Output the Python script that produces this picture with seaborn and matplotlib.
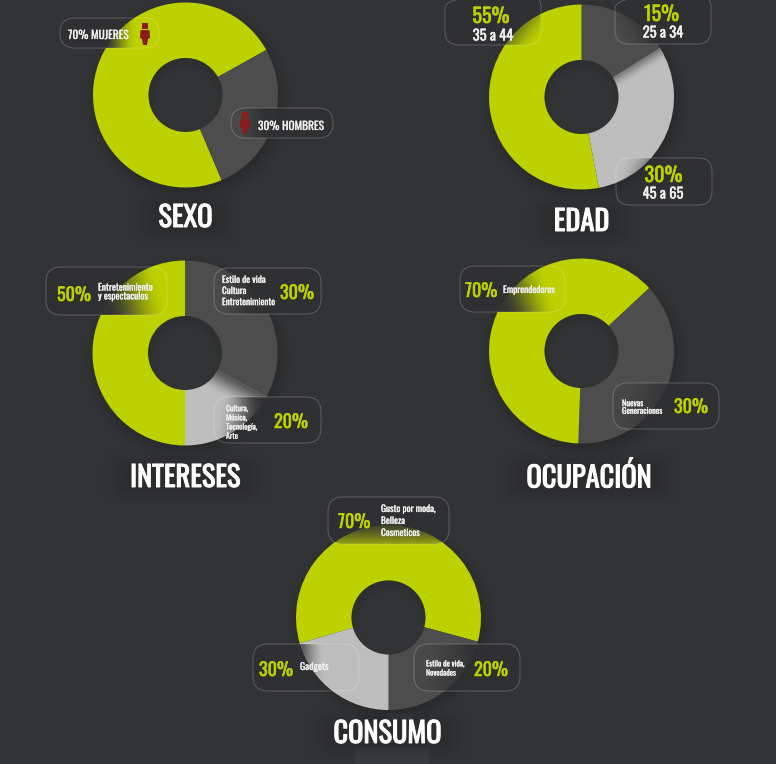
import numpy as np
import matplotlib
matplotlib.use("Agg")
import matplotlib.pyplot as plt
import matplotlib.patheffects as pe
from matplotlib.patches import FancyBboxPatch, Circle
import seaborn as sns

# arc shares as they are drawn in the picture (the printed % differ a bit)
sexo_shares = [73.3, 26.7]
edad_shares = [16.1, 30.9, 53.0]
intereses_shares = [32.8, 17.2, 50.0]
ocupacion_shares = [37.5, 62.5]
consumo_shares = [58.7, 20.8, 20.5]

titles = ["SEXO", "EDAD", "INTERESES", "OCUPACIÓN", "CONSUMO"]

W, H = 776, 764
BG = "#323335"
LIME = "#BDD000"
GRAY = "#4D4D4D"
LIGHT = "#BDBDBD"
FONT = ["Oswald", "Roboto", "DejaVu Sans"]

sns.set_theme(style="white", rc={"figure.facecolor": BG, "axes.facecolor": BG})
plt.rcParams["font.family"] = FONT
palette = sns.color_palette([LIME, GRAY, LIGHT])

fig = plt.figure(figsize=(W / 100, H / 100), dpi=100, facecolor=BG)
ax = fig.add_axes([0, 0, 1, 1])


def grid(x0, x1, y0, y1):
    xs = np.arange(x0, x1 + 1)
    ys = np.arange(y0, y1 + 1)
    return np.meshgrid(xs, ys)


def smooth(t):
    t = np.clip(t, 0, 1)
    return t * t * (3 - 2 * t)


def rgba_image(alpha, color, x0, x1, y0, y1, z):
    rgb = matplotlib.colors.to_rgb(color)
    img = np.zeros(alpha.shape + (4,))
    img[..., :3] = rgb
    img[..., 3] = alpha
    return ax.imshow(img, extent=(x0, x1, H - y1, H - y0), origin="upper",
                     interpolation="bilinear", aspect="auto", zorder=z)


def donut(cx, cy, shares, colors, start):
    # soft drop shadow under the ring, nothing in the hole
    X, Y = grid(cx - 115, cx + 115, cy - 115, cy + 125)
    d = np.hypot(X - cx - 3, Y - cy - 6)
    shade = 0.45 * (1 - smooth((d - 84) / 22)) * (d > 70)
    rgba_image(shade, "#1e1f20", cx - 115, cx + 115, cy - 115, cy + 125, 1)
    wedges, _ = ax.pie(shares, colors=colors, startangle=start, counterclock=False,
                       radius=92.5, center=(cx, H - cy),
                       wedgeprops={"width": 55.5, "linewidth": 0, "zorder": 2})
    # inner shadow along the top of the hole
    X, Y = grid(cx - 38, cx + 38, cy - 38, cy + 38)
    d = np.hypot(X - cx, Y - cy - 6)
    im = rgba_image(0.3 * smooth((d - 30) / 12), "#232425", cx - 38, cx + 38, cy - 38, cy + 38, 3)
    hole = Circle((cx, H - cy), 37, transform=ax.transData)
    im.set_clip_path(hole)
    return wedges


def edge_fade(wedge, p0, p1):
    # gray bleeding over the light slice next to its boundary
    x0, x1 = min(p0[0], p1[0]) - 70, max(p0[0], p1[0]) + 70
    y0, y1 = min(p0[1], p1[1]) - 70, max(p0[1], p1[1]) + 70
    X, Y = grid(x0, x1, y0, y1)
    vx, vy = p1[0] - p0[0], p1[1] - p0[1]
    t = ((X - p0[0]) * vx + (Y - p0[1]) * vy) / (vx * vx + vy * vy)
    im = rgba_image(1 - smooth(t), GRAY, x0, x1, y0, y1, 3)
    im.set_clip_path(wedge)


def card(x0, y0, x1, y1, r, opaque, clear, floor=0.0):
    # frosted pill: dark veil that fades out from `opaque` towards `clear`
    X, Y = grid(x0, x1, y0, y1)
    vx, vy = clear[0] - opaque[0], clear[1] - opaque[1]
    t = ((X - opaque[0]) * vx + (Y - opaque[1]) * vy) / (vx * vx + vy * vy)
    alpha = floor + (0.97 - floor) * (1 - smooth(t))
    im = rgba_image(alpha, "#2F3032", x0, x1, y0, y1, 4)
    clip = FancyBboxPatch((x0, H - y1), x1 - x0, y1 - y0, boxstyle=f"round,pad=0,rounding_size={r}",
                          transform=ax.transData, facecolor="none", edgecolor="none")
    ax.add_patch(clip)
    im.set_clip_path(clip)
    ax.add_patch(FancyBboxPatch((x0, H - y1), x1 - x0, y1 - y0, boxstyle=f"round,pad=0,rounding_size={r}",
                                facecolor="none", edgecolor=(1, 1, 1, 0.22), linewidth=0.7, zorder=5))


def label(x, y, s, size, color="#F0F0F0", ha="left", linespacing=1.0, bold=0.15):
    # the installed Oswald only has its light cut, so thicken it with a stroke
    ax.text(x, H - y, s, fontsize=size, color=color, ha=ha, va="center", linespacing=linespacing, zorder=7,
            path_effects=[pe.withStroke(linewidth=bold, foreground=color)])


def title(x, y, s, halfw):
    X, Y = grid(x - halfw - 30, x + halfw + 30, y - 28, y + 28)
    a = smooth((halfw + 30 - np.abs(X - x)) / 30) * smooth((28 - np.abs(Y - y)) / 18)
    rgba_image(0.42 * a, "#232425", x - halfw - 30, x + halfw + 30, y - 28, y + 28, 1.5)
    ax.text(x, H - y, s, fontsize=20.5, color="white", ha="center", va="center", zorder=7,
            path_effects=[pe.withStroke(linewidth=0.7, foreground="white")])


def ghost(x0, y0, x1, y1):
    # faint dotted remains around the last title
    X, Y = grid(x0, x1, y0, y1)
    rgba_image(0.22 * ((X + Y) % 2), "#6A6B6D", x0, x1, y0, y1, 1.6)


def person(cx, cy):
    red = "#8A1C1C"
    ax.fill([cx - 3, cx + 3, cx + 3, cx - 3], H - np.array([cy - 11, cy - 11, cy - 5, cy - 5]),
            color=red, lw=0, zorder=6)
    ax.fill([cx - 4.5, cx + 4.5, cx + 5, cx + 3, cx + 2, cx - 2, cx - 3, cx - 5],
            H - np.array([cy - 4, cy - 4, cy + 4, cy + 5, cy + 11, cy + 11, cy + 5, cy + 4]),
            color=red, lw=0, zorder=6)


lime, gray, light = palette
PCT = 0.35

# SEXO
donut(185.5, 95, sexo_shares, [lime, gray], 90 - 157)
card(60, 18, 159, 48, 15, (103, 33), (137, 33))
card(231, 108, 333, 138, 15, (268, 123), (236, 123), 0.15)
label(68, 35, "70% MUJERES", 8.2)
label(258, 126, "30% HOMBRES", 8.2)
person(145, 34)
person(245, 123)
title(185.5, 218, titles[0], 27)

# EDAD
w = donut(581.5, 97, edad_shares, [gray, light, lime], 90)
edge_fade(w[1], (651, 44), (662, 62))
card(445, -6, 541, 45, 14, (500, 18), (536, 46))
card(615, -6, 711, 44, 14, (655, 20), (617, 38), 0.1)
card(616, 158, 712, 205, 14, (665, 185), (622, 163))
label(491, 16, "55%", 14.5, LIME, ha="center", bold=PCT)
label(493, 36, "35 a 44", 10.5, ha="center", bold=0.25)
label(661.5, 14, "15%", 14.5, LIME, ha="center", bold=PCT)
label(663, 33, "25 a 34", 10.5, ha="center", bold=0.25)
label(663.5, 175, "30%", 14.5, LIME, ha="center", bold=PCT)
label(663, 194, "45 a 65", 10.5, ha="center", bold=0.25)
title(581.5, 222, titles[1], 28)

# INTERESES
w = donut(185, 353, intereses_shares, [gray, light, lime], 90)
edge_fade(w[1], (240, 378), (228, 400))
card(46, 267, 167, 315, 15, (103, 295), (160, 280))
card(214, 268, 321, 314, 15, (258, 295), (218, 300), 0.1)
card(214, 397, 321, 443, 15, (262, 420), (217, 412))
label(57, 295, "50%", 13, LIME, bold=PCT)
label(98, 292, "Entretenimiento\ny espectaculos", 6.8, linespacing=0.85)
label(222, 291, "Estilo de vida\nCultura\nEntretenimiento", 6.6, linespacing=1.45)
label(280, 293, "30%", 13, LIME, bold=PCT)
label(226, 422, "Cultura,\nMúsica,\nTecnología,\nArte", 5.6, linespacing=1.15)
label(274, 422, "20%", 13, LIME, bold=PCT)
title(185, 478, titles[2], 55)

# OCUPACION
donut(581.5, 351, ocupacion_shares, [gray, lime], 90 - 47)
card(460, 266, 565, 312, 15, (498, 295), (548, 278))
card(613, 383, 719, 429, 15, (680, 410), (618, 392), 0.2)
label(465, 291, "70%", 13, LIME, bold=PCT)
label(503, 290, "Emprendedores", 6.7)
label(622, 407, "Nuevas\nGeneraciones", 6, linespacing=0.95)
label(674, 407, "30%", 13, LIME, bold=PCT)
title(589, 477, titles[3], 62)

# CONSUMO
donut(388.5, 617.5, consumo_shares, [lime, gray, light], 90 - 253.8)
card(328, 497, 449, 544, 15, (388, 518), (388, 560), 0.0)
card(253, 644, 359, 691, 15, (290, 667), (325, 667))
card(414, 644, 520, 691, 15, (480, 672), (420, 660), 0.15)
label(338, 522, "70%", 13, LIME, bold=PCT)
label(381, 521, "Gusto por moda,\nBelleza\nCosmeticos", 6.7, linespacing=1.25)
label(259, 670, "30%", 13, LIME, bold=PCT)
label(300, 667, "Gadgets", 7)
label(426, 668, "Estilo de vida,\nNovedades", 5.6, linespacing=1.15)
label(474, 670, "20%", 13, LIME, bold=PCT)
ghost(388, 713, 413, 720)
ghost(355, 747, 430, 764)
title(387.5, 734, titles[4], 52)

ax.set(xlim=(0, W), ylim=(0, H), xticks=[], yticks=[])
ax.set_frame_on(False)
ax.set_aspect("auto")

fig.savefig("out.png", dpi=100, facecolor=BG)
